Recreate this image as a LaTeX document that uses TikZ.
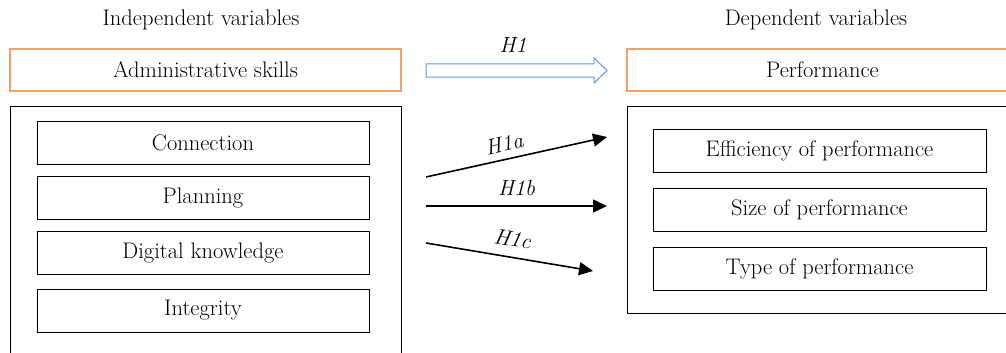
\documentclass[tikz,border=0pt]{standalone}
\usetikzlibrary{arrows.meta,calc}
\definecolor{boxorange}{RGB}{244,160,96}
\definecolor{arrowblue}{RGB}{100,150,220}
\tikzset{
  txt/.style={font=\fontsize{22.5}{26}\selectfont, inner sep=0pt},
  hlab/.style={font=\fontsize{22}{26}\selectfont\itshape, inner sep=0pt},
  headbox/.style={draw=boxorange, line width=1.2pt, minimum width=391pt, minimum height=42pt, inner sep=0pt, font=\fontsize{22.5}{26}\selectfont},
  outerbox/.style={draw=black, line width=1pt, inner sep=0pt},
  itembox/.style={draw=black, line width=1pt, minimum width=332pt, minimum height=43pt, inner sep=0pt, font=\fontsize{22.5}{26}\selectfont},
  rel/.style={line width=1.6pt, -{Triangle[length=14pt,width=13pt]}},
}
\begin{document}
\begin{tikzpicture}[x=1pt,y=-1pt]
\useasboundingbox (0,0) rectangle (1006,353);
\clip (0,0) rectangle (1006,353);
% titles
\node[txt] (indep) at (201,20) {Independent variables};
\node[txt] (dep) at (816,20) {Dependent variables};
% header boxes
\node[headbox] (admin) at (205.5,70) {Administrative skills};
\node[headbox] (perf) at (822.5,70) {Performance};
% outer containers
\node[outerbox, minimum width=391pt, minimum height=270pt] (leftouter) at (205.5,241) {};
\node[outerbox, minimum width=391pt, minimum height=207pt] (rightouter) at (822.5,209.5) {};
% left items
\node[itembox] (conn) at (203,142.5) {Connection};
\node[itembox] (plan) at (203,198) {Planning};
\node[itembox] (digi) at (203,253) {Digital knowledge};
\node[itembox] (integ) at (203,310.5) {Integrity};
% right items
\node[itembox, minimum width=333pt] (eff) at (819.5,150.5) {Efficiency of performance};
\node[itembox, minimum width=333pt] (size) at (819.5,209.5) {Size of performance};
\node[itembox, minimum width=333pt] (type) at (819.5,268.5) {Type of performance};
% block arrow H1
\coordinate (h1s) at (426,70.5);
\coordinate (h1e) at (607,70.5);
\draw[arrowblue, line width=1pt, fill=white]
  ($(h1s)+(0,-6.5)$) -- ($(h1e)+(-13,-6.5)$) -- ($(h1e)+(-13,-12.5)$) -- (h1e)
  -- ($(h1e)+(-13,12.5)$) -- ($(h1e)+(-13,6.5)$) -- ($(h1s)+(0,6.5)$) -- cycle;
\node[hlab] (h1lab) at (513,45) {H1};
% relation arrows
\coordinate (as) at (426,177);
\coordinate (ae) at (607,137);
\coordinate (bs) at (426,206);
\coordinate (be) at (607,206);
\coordinate (cs) at (426,243);
\coordinate (ce) at (593,271);
\draw[rel] (as) -- node[hlab, pos=0.45, above=7pt, sloped] {H1a} (ae);
\draw[rel] (bs) -- node[hlab, midway, above=9pt] {H1b} (be);
\draw[rel] (cs) -- node[hlab, midway, above=10pt, sloped] {H1c} (ce);
\end{tikzpicture}
\end{document}
